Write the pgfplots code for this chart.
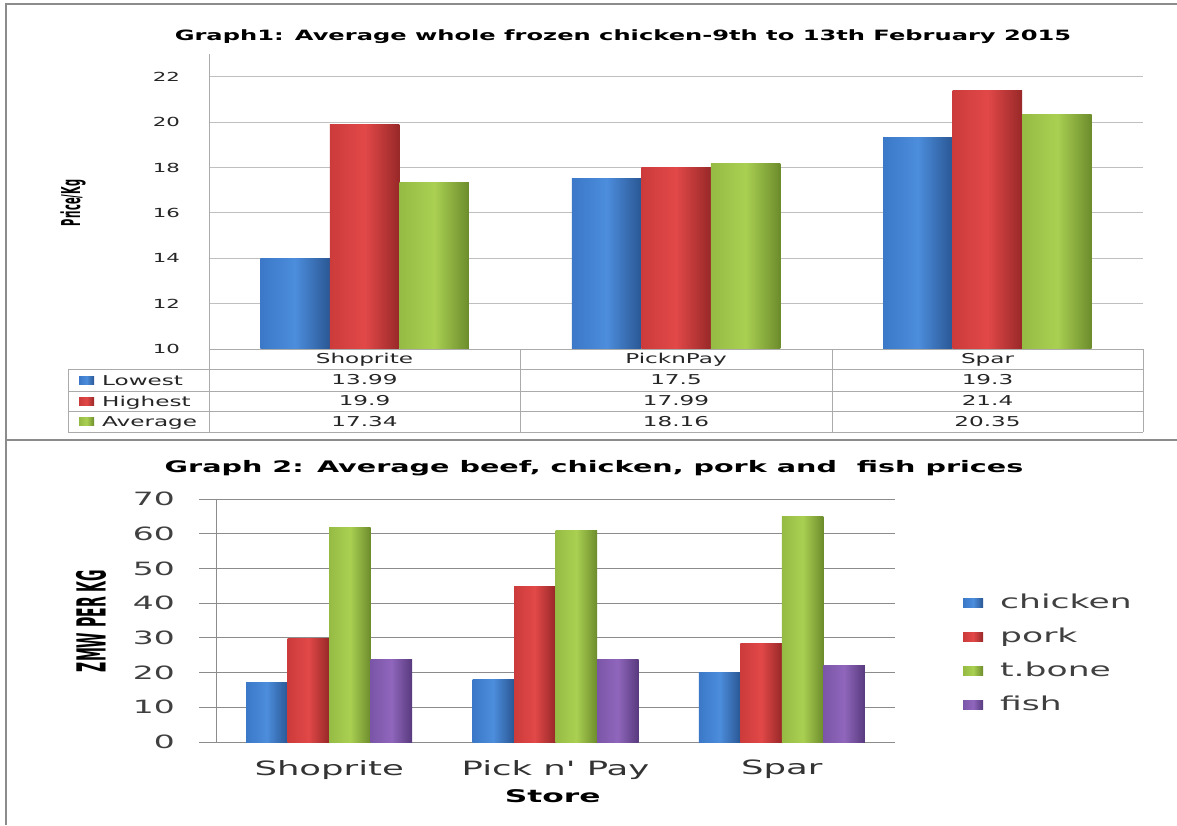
\documentclass[border=0pt]{standalone}
\usepackage{pgfplots}
\pgfplotsset{compat=1.18}
\usepackage{fontspec}
\setmainfont{DejaVu Sans}
\newfontfamily\topfont[FakeStretch=1.7]{DejaVu Sans}
\newfontfamily\botfont[FakeStretch=1.8]{DejaVu Sans}
\newfontfamily\condfont[FakeStretch=0.38]{DejaVu Sans}
\newfontfamily\condbfont[FakeStretch=0.35]{DejaVu Sans}

\definecolor{blueL}{HTML}{4C8DDC}
\definecolor{blueM}{HTML}{3B78C8}
\definecolor{blueD}{HTML}{2A5794}
\definecolor{redL}{HTML}{E24848}
\definecolor{redM}{HTML}{CC3B3B}
\definecolor{redD}{HTML}{982828}
\definecolor{greenL}{HTML}{AAD052}
\definecolor{greenM}{HTML}{95BB44}
\definecolor{greenD}{HTML}{6C8C2C}
\definecolor{purpL}{HTML}{8F66BC}
\definecolor{purpM}{HTML}{7B56A8}
\definecolor{purpD}{HTML}{583A7E}
\definecolor{frame}{HTML}{8C8C8C}
\definecolor{tabline}{HTML}{ABABAB}

\tikzset{
  barblue/.style={draw=none, left color=blueM, right color=blueD, middle color=blueL},
  barred/.style={draw=none, left color=redM, right color=redD, middle color=redL},
  bargreen/.style={draw=none, left color=greenM, right color=greenD, middle color=greenL},
  barpurp/.style={draw=none, left color=purpM, right color=purpD, middle color=purpL},
}

\begin{document}
\begin{tikzpicture}[x=1pt,y=1pt]
\fill[white] (0,0) rectangle (1177,825);
\useasboundingbox (0,0) rectangle (1177,825);

% ---------- Graph 1 ----------
\begin{axis}[
  at={(209pt,476pt)}, anchor=south west,
  scale only axis, width=934pt, height=295pt,
  xmin=-0.5, xmax=2.5, ymin=10, ymax=23,
  ytick={10,12,...,22}, xtick=\empty,
  axis x line=none, axis y line*=left,
  y axis line style={-, draw=tabline, line width=0.8pt},
  ymajorgrids, grid style={draw=black!25, line width=0.8pt},
  major tick length=0pt,
  /pgf/number format/assume math mode=true,
  yticklabel style={font=\topfont\fontsize{12.5}{13}\selectfont, text=black!85, anchor=east, inner sep=0pt, xshift=-29pt},
  ybar, bar width=69.5pt,
  legend style={at={(-0.1392,-0.1763)}, anchor=west, draw=none, fill=none,
    font=\topfont\fontsize{13.6}{14}\selectfont, inner sep=0pt, row sep=2.7pt,
    nodes={inner sep=0pt, text height=14pt, text depth=4pt, text=black!85},
    /tikz/every odd column/.append style={column sep=8pt}},
  legend cell align=left,
  legend image code/.code={\path[#1] (0pt,-4pt) rectangle (15pt,4pt);},
]
% Lowest / Highest / Average, one bar per plot so each bar is shaded on its own
\addplot[barblue, bar shift=-69.5pt] coordinates {(0,13.99)};
\addplot[barred, bar shift=0pt] coordinates {(0,19.9)};
\addplot[bargreen, bar shift=69.5pt] coordinates {(0,17.34)};
\addplot[barblue, bar shift=-69.5pt, forget plot] coordinates {(1,17.5)};
\addplot[barred, bar shift=0pt, forget plot] coordinates {(1,17.99)};
\addplot[bargreen, bar shift=69.5pt, forget plot] coordinates {(1,18.16)};
\addplot[barblue, bar shift=-69.5pt, forget plot] coordinates {(2,19.3)};
\addplot[barred, bar shift=0pt, forget plot] coordinates {(2,21.4)};
\addplot[bargreen, bar shift=69.5pt, forget plot] coordinates {(2,20.35)};
\legend{Lowest, Highest, Average}
\end{axis}

% data table lines
\begin{scope}[draw=tabline, line width=0.8pt]
\draw (209,476) -- (1143,476);
\draw (68,456) -- (1143,456);
\draw (68,434) -- (1143,434);
\draw (68,414) -- (1143,414);
\draw (68,393) -- (1143,393);
\draw (68,456) -- (68,393);
\draw (209,476) -- (209,393);
\draw (520,476) -- (520,393);
\draw (832,476) -- (832,393);
\draw (1143,476) -- (1143,393);
\end{scope}
\begin{scope}[every node/.style={font=\topfont\fontsize{13.6}{14}\selectfont, text=black!85, inner sep=0pt, anchor=base}]
\node at (364.5,461) {Shoprite};
\node at (676,461) {PicknPay};
\node at (987.5,461) {Spar};
\node at (364.5,440) {13.99};
\node at (676,440) {17.5};
\node at (987.5,440) {19.3};
\node at (364.5,419) {19.9};
\node at (676,419) {17.99};
\node at (987.5,419) {21.4};
\node at (364.5,398.5) {17.34};
\node at (676,398.5) {18.16};
\node at (987.5,398.5) {20.35};
\end{scope}

\node[font=\topfont\bfseries\fontsize{14.2}{15}\selectfont, anchor=base, inner sep=0pt] at (623,784.3)
  {Graph1: Average whole frozen chicken-9th to 13th February 2015};
\node[font=\condfont\bfseries\fontsize{26}{28}\selectfont, rotate=90, inner sep=0pt] at (73,622) {Price/Kg};

% ---------- Graph 2 ----------
\begin{axis}[
  at={(216pt,83pt)}, anchor=south west,
  scale only axis, width=679pt, height=243pt,
  xmin=-0.5, xmax=2.5, ymin=0, ymax=70,
  ytick={0,10,...,70}, xtick={0,1,2}, xticklabels={Shoprite, Pick n' Pay, Spar},
  axis x line*=bottom, axis y line*=left,
  axis line style={-, draw=black!45, line width=0.8pt},
  ymajorgrids, grid style={draw=black!45, line width=0.8pt},
  tick align=outside, major tick length=17pt,
  ytick style={draw=black!45, line width=0.8pt}, xtick style={draw=none},
  /pgf/number format/assume math mode=true,
  yticklabel style={font=\botfont\fontsize{18.3}{19}\selectfont, text=black!75, anchor=east, inner sep=0pt, xshift=-24pt},
  xticklabel style={font=\botfont\fontsize{19.7}{20}\selectfont, text=black!80, anchor=north, inner sep=0pt, yshift=-1pt},
  xlabel={Store},
  xlabel style={font=\botfont\bfseries\fontsize{17.4}{18}\selectfont, at={(axis description cs:0.496,0)}, anchor=center, yshift=-54pt, inner sep=0pt},
  ybar, bar width=41.5pt,
  legend style={at={(1.1001,0.3621)}, anchor=west, draw=none, fill=none,
    font=\botfont\fontsize{19.2}{20}\selectfont, inner sep=0pt, row sep=11pt,
    nodes={inner sep=0pt, text height=17pt, text depth=6pt, text=black!75},
    /tikz/every odd column/.append style={column sep=17pt}},
  legend cell align=left,
  legend image code/.code={\path[#1] (0pt,-4.5pt) rectangle (20pt,4.5pt);},
]
% chicken / pork / t.bone / fish
\addplot[barblue, bar shift=-62.25pt] coordinates {(0,17.2)};
\addplot[barred, bar shift=-20.75pt] coordinates {(0,29.7)};
\addplot[bargreen, bar shift=20.75pt] coordinates {(0,61.7)};
\addplot[barpurp, bar shift=62.25pt] coordinates {(0,23.7)};
\addplot[barblue, bar shift=-62.25pt, forget plot] coordinates {(1,18.1)};
\addplot[barred, bar shift=-20.75pt, forget plot] coordinates {(1,44.7)};
\addplot[bargreen, bar shift=20.75pt, forget plot] coordinates {(1,60.8)};
\addplot[barpurp, bar shift=62.25pt, forget plot] coordinates {(1,23.7)};
\addplot[barblue, bar shift=-62.25pt, forget plot] coordinates {(2,20.1)};
\addplot[barred, bar shift=-20.75pt, forget plot] coordinates {(2,28.4)};
\addplot[bargreen, bar shift=20.75pt, forget plot] coordinates {(2,64.9)};
\addplot[barpurp, bar shift=62.25pt, forget plot] coordinates {(2,22.1)};
\legend{chicken, pork, t.bone, fish}
\end{axis}

\node[font=\botfont\bfseries\fontsize{15.9}{17}\selectfont, anchor=base, inner sep=0pt] at (594,352)
  {Graph 2: Average beef, chicken, pork and\ \ fish prices};
\node[font=\condbfont\bfseries\fontsize{40}{42}\selectfont, rotate=90, inner sep=0pt] at (91,204) {ZMW PER KG};

% frame
\draw[frame, line width=2.5pt] (6,0) -- (6,821) -- (1177,821);
\draw[frame, line width=2.5pt] (6,385) -- (1177,385);
\end{tikzpicture}
\end{document}
